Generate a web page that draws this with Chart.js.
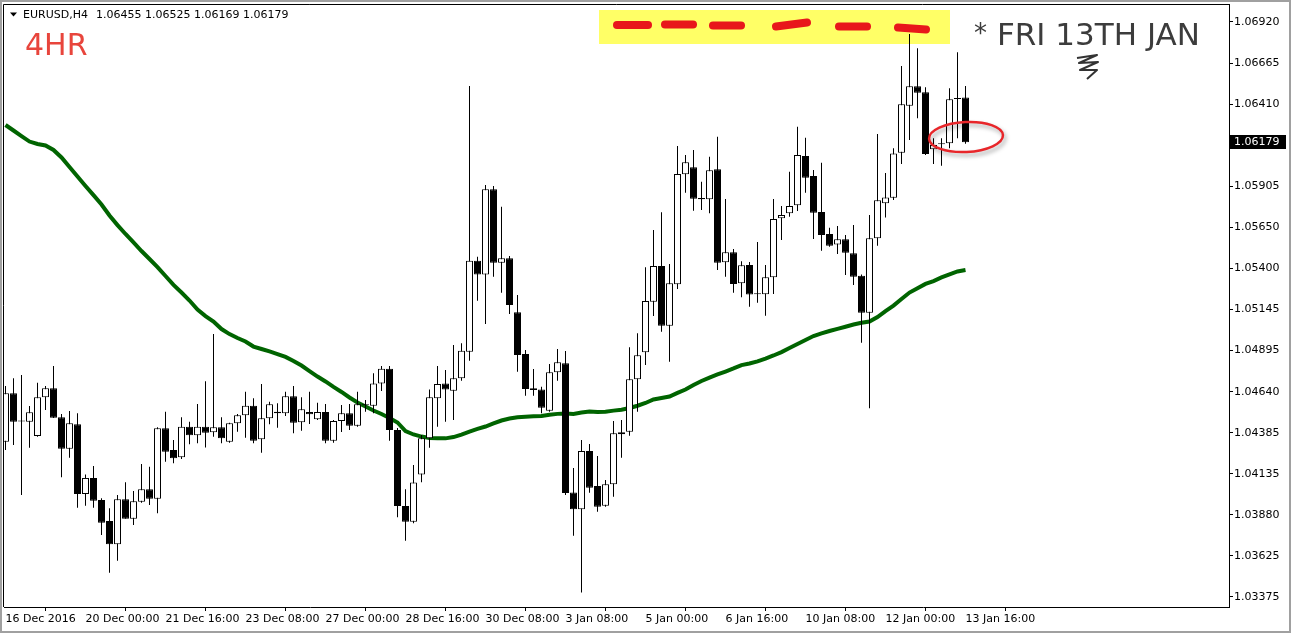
<!DOCTYPE html>
<html>
<head>
<meta charset="utf-8">
<script src="https://cdn.jsdelivr.net/npm/chart.js@4.4.1/dist/chart.umd.min.js"></script>
<style>
html, body { margin: 0; padding: 0; background: #fff; }
#chart { display: block; }
</style>
</head>
<body>
<canvas id="chart" width="1291" height="633"></canvas>
<script>
// EURUSD H4 bars, 16 Dec 2016 -> 13 Jan 2017
let opens = [
1.04332,1.04631,1.04460,1.04456,1.04368,1.04606,1.04662,1.04483,1.04289,1.04440,
1.04010,1.04109,1.03973,1.03844,1.03700,1.03977,1.03858,1.03963,1.04039,1.03981,
1.04415,1.04281,1.04236,1.04425,1.04372,1.04425,1.04390,1.04421,1.04332,1.04446,
1.04495,1.04554,1.04347,1.04477,1.04517,1.04508,1.04612,1.04452,1.04516,1.04471,
1.04516,1.04339,1.04460,1.04508,1.04431,1.04557,1.04554,1.04692,1.04782,1.04405,
1.03936,1.03839,1.04131,1.04353,1.04600,1.04692,1.04647,1.04723,1.04887,1.05448,
1.05364,1.05889,1.05436,1.05463,1.05130,1.04873,1.04662,1.04655,1.04524,1.04760,
1.04816,1.04020,1.03916,1.04275,1.04059,1.03938,1.04070,1.04378,1.04394,1.04717,
1.04884,1.05196,1.05416,1.05048,1.05303,1.05981,1.06024,1.05835,1.05827,1.06012,
1.05439,1.05500,1.05309,1.05422,1.05243,1.05241,1.05346,1.05710,1.05741,1.05790,
1.06094,1.05971,1.05749,1.05613,1.05549,1.05580,1.05494,1.05356,1.05128,1.05586,
1.05802,1.05837,1.06114,1.06404,1.06524,1.06487,1.06135,1.06166,1.06172,1.06445,
1.06455]
let highs = [
1.04676,1.04723,1.04744,1.04553,1.04696,1.04676,1.04799,1.04503,1.04522,1.04508,
1.04131,1.04183,1.03984,1.03922,1.04004,1.04082,1.04029,1.04195,1.04178,1.04421,
1.04517,1.04343,1.04483,1.04456,1.04565,1.04705,1.04996,1.04483,1.04450,1.04503,
1.04641,1.04600,1.04688,1.04579,1.04569,1.04641,1.04676,1.04606,1.04641,1.04573,
1.04565,1.04466,1.04559,1.04565,1.04641,1.04590,1.04754,1.04799,1.04799,1.04417,
1.04039,1.04189,1.04374,1.04655,1.04799,1.04774,1.04929,1.04939,1.06525,1.05473,
1.05915,1.05909,1.05781,1.05477,1.05237,1.04898,1.04781,1.04672,1.04812,1.04904,
1.04892,1.04170,1.04343,1.04318,1.04244,1.04096,1.04460,1.04466,1.04914,1.05001,
1.05408,1.05638,1.05747,1.05428,1.06155,1.06100,1.06131,1.05935,1.06090,1.06213,
1.05829,1.05521,1.05445,1.05440,1.05564,1.05422,1.05829,1.05786,1.05997,1.06274,
1.06207,1.06008,1.06053,1.05652,1.05662,1.05607,1.05668,1.05364,1.05730,1.06229,
1.05989,1.06141,1.06649,1.06846,1.06758,1.06517,1.06203,1.06203,1.06511,1.06733,
1.06525]
let lows = [
1.04281,1.04312,1.04004,1.04295,1.04363,1.04528,1.04479,1.04113,1.04234,1.03926,
1.03938,1.03926,1.03757,1.03525,1.03599,1.03858,1.03819,1.03956,1.03942,1.03891,
1.04209,1.04199,1.04226,1.04316,1.04323,1.04297,1.04363,1.04323,1.04326,1.04394,
1.04357,1.04323,1.04265,1.04440,1.04419,1.04491,1.04384,1.04400,1.04442,1.04466,
1.04323,1.04326,1.04392,1.04405,1.04425,1.04517,1.04508,1.04645,1.04339,1.03866,
1.03722,1.03829,1.04082,1.04295,1.04425,1.04456,1.04466,1.04708,1.04832,1.05202,
1.05058,1.05350,1.05251,1.05120,1.04764,1.04616,1.04616,1.04508,1.04517,1.04708,
1.04004,1.03753,1.03402,1.04018,1.03901,1.03932,1.03993,1.04234,1.04369,1.04517,
1.04805,1.05107,1.05011,1.04826,1.05274,1.05868,1.05757,1.05761,1.05741,1.05391,
1.05350,1.05251,1.05223,1.05165,1.05189,1.05109,1.05243,1.05576,1.05720,1.05755,
1.05868,1.05582,1.05510,1.05535,1.05490,1.05360,1.05299,1.04943,1.04538,1.05541,
1.05715,1.05823,1.06045,1.06193,1.06326,1.06100,1.06045,1.06034,1.06141,1.06203,
1.06169]
let closes = [
1.04631,1.04456,1.04457,1.04514,1.04606,1.04662,1.04480,1.04289,1.04446,1.04010,
1.04109,1.03969,1.03833,1.03700,1.03977,1.03858,1.03965,1.04039,1.03981,1.04415,
1.04271,1.04230,1.04425,1.04372,1.04425,1.04388,1.04421,1.04353,1.04446,1.04495,
1.04554,1.04339,1.04477,1.04563,1.04508,1.04612,1.04450,1.04532,1.04501,1.04516,
1.04339,1.04460,1.04508,1.04431,1.04563,1.04563,1.04692,1.04782,1.04405,1.03936,
1.03839,1.04081,1.04353,1.04606,1.04688,1.04655,1.04723,1.04893,1.05448,1.05364,
1.05889,1.05436,1.05463,1.05175,1.04867,1.04657,1.04651,1.04542,1.04760,1.04822,
1.04016,1.03916,1.04275,1.04049,1.03932,1.04070,1.04384,1.04390,1.04717,1.04865,
1.05200,1.05416,1.05048,1.05309,1.05983,1.06055,1.05831,1.05827,1.06006,1.05436,
1.05500,1.05305,1.05420,1.05240,1.05241,1.05346,1.05705,1.05730,1.05786,1.06100,
1.05960,1.05744,1.05607,1.05541,1.05580,1.05498,1.05350,1.05128,1.05586,1.05821,
1.05838,1.06110,1.06413,1.06524,1.06484,1.06106,1.06162,1.06171,1.06443,1.06452,
1.06179]
// moving average (green line)
let ma = [
1.06285,1.06251,1.06217,1.06183,1.06168,1.06159,1.06131,1.06085,1.06026,1.05967,
1.05909,1.05853,1.05795,1.05727,1.05668,1.05613,1.05561,1.05508,1.05459,1.05409,
1.05354,1.05299,1.05252,1.05203,1.05147,1.05107,1.05073,1.05027,1.04996,1.04972,
1.04950,1.04919,1.04904,1.04889,1.04873,1.04855,1.04830,1.04802,1.04768,1.04734,
1.04704,1.04670,1.04639,1.04605,1.04574,1.04549,1.04525,1.04503,1.04479,1.04451,
1.04398,1.04377,1.04364,1.04355,1.04353,1.04353,1.04361,1.04376,1.04395,1.04411,
1.04426,1.04445,1.04463,1.04475,1.04483,1.04486,1.04489,1.04491,1.04499,1.04504,
1.04506,1.04503,1.04512,1.04519,1.04516,1.04517,1.04524,1.04530,1.04540,1.04554,
1.04571,1.04593,1.04602,1.04611,1.04633,1.04654,1.04682,1.04707,1.04728,1.04747,
1.04765,1.04784,1.04805,1.04815,1.04828,1.04845,1.04864,1.04885,1.04910,1.04935,
1.04959,1.04984,1.05000,1.05015,1.05028,1.05041,1.05055,1.05066,1.05073,1.05101,
1.05138,1.05172,1.05212,1.05252,1.05279,1.05305,1.05323,1.05345,1.05364,1.05382,
1.05391]

// one time label every 10 bars
let timeLabels = ['16 Dec 2016','20 Dec 00:00','21 Dec 16:00','23 Dec 08:00','27 Dec 00:00','28 Dec 16:00',
  '30 Dec 08:00','3 Jan 08:00','5 Jan 00:00','6 Jan 16:00','10 Jan 08:00','12 Jan 00:00','13 Jan 16:00']
let priceLabels = ['1.06920','1.06665','1.06410','1.05905','1.05650','1.05400','1.05145',
  '1.04895','1.04640','1.04385','1.04135','1.03880','1.03625','1.03375']

let symbol = 'EURUSD,H4'
let last = closes.length - 1
let idx = closes.map((_, i) => i)

Chart.defaults.font.family = '"DejaVu Sans", sans-serif'
Chart.defaults.font.size = 11
Chart.defaults.color = '#000'

// price ticks sit on an even grid, labels are the rounded values
let pTop = +priceLabels[0], pBot = +priceLabels[priceLabels.length - 1]
let pStep = (pTop - pBot) / 14
let snap = v => pTop - Math.round((pTop - v) / pStep) * pStep

let decor = {
  id: 'decor',
  beforeDatasetsDraw(chart) {
    let c = chart.ctx
    c.save()
    c.fillStyle = '#ffff66'
    c.fillRect(599, 10, 351, 34)
    c.strokeStyle = '#e8171b'
    c.lineCap = 'round'
    c.lineWidth = 8
    let dashes = [[617, 25, 648, 25], [665, 24.5, 693, 24.5], [713, 25.5, 741, 25.5],
      [776, 26.5, 807, 22.5], [839, 26.5, 867, 26.5], [898, 27.5, 926, 29.5]]
    dashes.forEach(d => {
      c.beginPath(); c.moveTo(d[0], d[1]); c.lineTo(d[2], d[3]); c.stroke()
    })
    c.restore()
  },
  afterDraw(chart) {
    let c = chart.ctx
    let a = chart.chartArea
    c.save()
    // window + chart frame
    c.strokeStyle = '#a0a0a0'
    c.lineWidth = 2
    c.strokeRect(1, 1, 1289, 631)
    c.strokeStyle = '#000'
    c.lineWidth = 1
    c.beginPath()
    c.moveTo(a.left - 0.5, a.bottom)
    c.lineTo(a.left - 0.5, a.top + 0.5)
    c.lineTo(a.right, a.top + 0.5)
    c.stroke()

    // header
    c.fillStyle = '#000'
    c.beginPath(); c.moveTo(10, 12.5); c.lineTo(17, 12.5); c.lineTo(13.5, 16.5); c.closePath(); c.fill()
    c.font = '11px "DejaVu Sans"'
    c.textBaseline = 'middle'
    c.fillText(symbol, 23, 15)
    c.fillText([opens[last], highs[last], lows[last], closes[last]].map(v => v.toFixed(5)).join(' '), 96, 15)

    // current price tag
    let py = Math.round(chart.scales.y.getPixelForValue(closes[last]))
    c.fillRect(a.right + 1, py - 7, 56, 14)
    c.fillStyle = '#fff'
    c.fillText(closes[last].toFixed(5), 1234, py)

    // hand drawn notes
    c.textBaseline = 'alphabetic'
    c.fillStyle = '#e8453c'
    c.font = '30px "DejaVu Sans"'
    c.fillText('4HR', 25, 55)
    c.fillStyle = '#3c3c3c'
    c.font = '31px "DejaVu Sans"'
    c.fillText('FRI 13TH JAN', 997, 45)
    c.font = '26px "DejaVu Sans"'
    c.fillText('*', 974, 42)
    c.strokeStyle = '#333'
    c.lineWidth = 2
    c.lineJoin = 'round'
    c.beginPath()
    c.moveTo(1077, 58); c.lineTo(1097, 55); c.lineTo(1079, 63); c.lineTo(1098, 62)
    c.lineTo(1080, 70); c.lineTo(1097, 70); c.lineTo(1087, 79)
    c.stroke()

    c.shadowColor = 'rgba(0,0,0,0.35)'
    c.shadowBlur = 4
    c.shadowOffsetX = 2
    c.shadowOffsetY = 3
    c.strokeStyle = '#e8262a'
    c.lineWidth = 2.5
    c.beginPath()
    c.ellipse(966, 137, 37, 15, -0.05, 0, Math.PI * 2)
    c.stroke()
    c.restore()
  }
}

let ctx = document.getElementById('chart').getContext('2d')
let chart = new Chart(ctx, {
  type: 'bar',
  data: {
    datasets: [
      {
        type: 'line',
        data: idx.map(i => ({ x: i, y: ma[i] })),
        borderColor: '#006400',
        borderWidth: 4,
        pointRadius: 0,
        tension: 0,
        order: 3
      },
      {
        data: idx.map(i => ({ x: i, y: [lows[i], highs[i]] })),
        backgroundColor: '#000',
        barThickness: 1,
        grouped: false,
        inflateAmount: 0,
        order: 2
      },
      {
        data: idx.map(i => ({ x: i, y: [opens[i], closes[i]] })),
        backgroundColor: idx.map(i => closes[i] >= opens[i] ? '#fff' : '#000'),
        borderColor: '#000',
        borderWidth: 1,
        borderSkipped: false,
        barThickness: 7,
        minBarLength: 1,
        grouped: false,
        inflateAmount: 0,
        order: 1
      }
    ]
  },
  options: {
    responsive: false,
    animation: false,
    layout: { padding: { left: 4, top: 4, right: 0, bottom: 0 } },
    plugins: { legend: { display: false }, tooltip: { enabled: false } },
    scales: {
      x: {
        type: 'linear',
        min: -0.1875,
        max: 152.9375,
        offset: false,
        grid: { drawOnChartArea: false, drawTicks: true, tickLength: 4, color: '#000' },
        border: { display: true, color: '#000' },
        afterBuildTicks: s => { s.ticks = timeLabels.map((_, k) => ({ value: k * 10 })) },
        ticks: {
          autoSkip: false, maxRotation: 0, minRotation: 0, align: 'start', padding: 2,
          callback: (v, i) => timeLabels[i]
        },
        afterFit: s => { s.height = 26; s.paddingLeft = 0; s.paddingRight = 0 }
      },
      y: {
        position: 'right',
        min: 1.0331334,
        max: 1.0703097,
        grid: { drawOnChartArea: false, drawTicks: true, tickLength: 4, color: '#000' },
        border: { display: true, color: '#000' },
        afterBuildTicks: s => { s.ticks = priceLabels.map(l => ({ value: snap(+l) })) },
        ticks: { autoSkip: false, padding: 1, callback: (v, i) => priceLabels[i] },
        afterFit: s => { s.width = 62; s.paddingTop = 0; s.paddingBottom = 0 }
      }
    }
  },
  plugins: [decor]
})
</script>
</body>
</html>
